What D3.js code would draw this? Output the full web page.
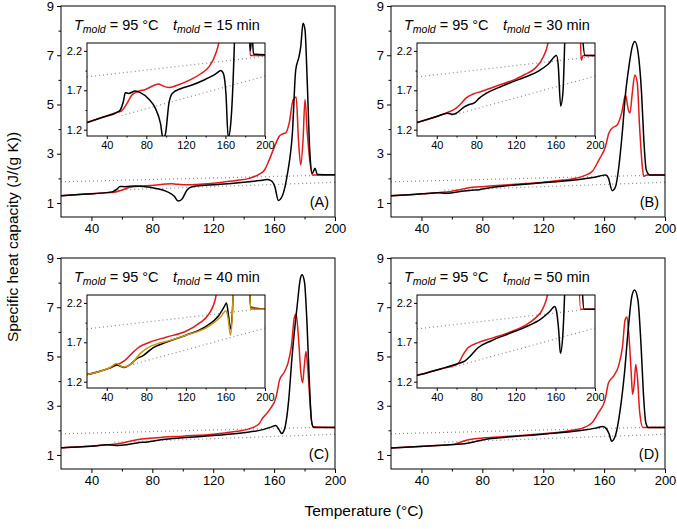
<!DOCTYPE html>
<html>
<head>
<meta charset="utf-8">
<script src="https://cdn.jsdelivr.net/npm/d3@7"></script>
<style>
  body { margin: 0; background: #fff; }
  svg { font-family: "Liberation Sans", Arial, sans-serif; }
  .tick line { stroke: #000; }
  .domain { display: none; }
</style>
</head>
<body>
<svg id="chart" width="677" height="529"></svg>
<script>
// ---- data (temperature in °C, specific heat capacity in J/(g K)) ----
var xTicks = [40, 80, 120, 160, 200];
var xMinor = [60, 100, 140, 180];
var yTicks = [1, 3, 5, 7, 9];
var yMinor = [2, 4, 6, 8];
var insetYTicks = [1.2, 1.7, 2.2];
var insetYMinor = [1.45, 1.95];

var panelIds = ["A", "B", "C", "D"];
var moldTimes = [15, 30, 40, 50];

var blackA = [[20,1.29],[36.6,1.36],[50.2,1.42],[53.6,1.45],[57,1.57],[58.7,1.67],[62,1.66],[68.8,1.69],[73.9,1.67],[82.4,1.59],[89.2,1.47],[94.3,1.28],[97,1.08],[99.4,1.15],[102.8,1.53],[106.2,1.66],[114.7,1.72],[124.8,1.76],[138.4,1.83],[150.5,1.91],[155.3,1.95],[158,1.91],[160.5,1.66],[162.8,1.1],[165.5,1.3],[168.8,2.2],[172,3.83],[174.2,6.4],[176.4,6.95],[177.5,7.35],[179,8.3],[180.3,8.03],[181.8,5.86],[183.4,3.15],[185.1,2.2],[186.9,2.41],[188.4,2.16],[200,2.15]];
var redA = [[20,1.29],[36.6,1.36],[50.2,1.42],[55,1.44],[60.3,1.53],[65.4,1.64],[70.5,1.68],[79,1.71],[92.6,1.78],[96,1.76],[102.8,1.735],[111.2,1.765],[124.8,1.835],[135,1.91],[143.5,2.0],[150.3,2.17],[153.7,2.34],[156.8,2.75],[161.2,3.43],[163.3,3.7],[165.5,3.8],[167.7,3.85],[169.9,4.24],[172.5,5.19],[174.5,5.3],[176,3.56],[177.5,2.54],[179,3.56],[180.3,5.2],[181.8,3.83],[183.4,2.75],[185.1,2.14],[200,2.14]];

var blackB = [[20,1.29],[40.7,1.37],[50.9,1.41],[56,1.395],[61,1.42],[67.8,1.49],[72.9,1.52],[78,1.54],[83,1.6],[89.9,1.66],[101.7,1.73],[115.3,1.8],[128.9,1.865],[142.4,1.94],[152.6,2.03],[161.1,2.14],[162.8,2.02],[165.3,1.5],[167.5,1.66],[169.7,2.48],[171.9,3.83],[174.1,5.46],[176.3,6.54],[178.5,7.35],[180.2,7.56],[182.4,7.08],[184.6,5.46],[186.1,3.56],[187.7,2.34],[190,2.14],[200,2.14]];
var redB = [[20,1.29],[40.7,1.37],[50.9,1.42],[59.3,1.47],[64.4,1.53],[69.5,1.6],[76.3,1.65],[84.8,1.685],[95,1.73],[108.5,1.79],[118.7,1.835],[128.9,1.9],[139,1.975],[147.5,2.12],[152.6,2.31],[156.6,2.75],[160.9,3.29],[163.1,3.83],[165.3,4.04],[168.6,4.17],[171.5,4.65],[174.1,5.39],[175.9,4.78],[177,4.65],[178.5,5.46],[180.2,6.2],[181.8,5.87],[183.3,4.1],[185.1,2.48],[186,2.08],[188,2.14],[200,2.14]];

var blackC = [[20,1.29],[23.3,1.3],[43.3,1.375],[50,1.415],[53.3,1.4],[57.3,1.38],[63.3,1.415],[70,1.49],[76.7,1.53],[86.7,1.63],[100,1.7],[120,1.79],[140,1.9],[153.3,2.04],[158.7,2.15],[161,2.2],[163.3,2.02],[165,1.87],[166.7,2.02],[169.6,3.24],[171.8,5.0],[175.1,7.03],[177.3,8.18],[178.4,8.32],[180,8.0],[181.6,6.35],[183.1,4.05],[184.5,2.42],[186,2.12],[200,2.12]];
var redC = [[20,1.29],[43.3,1.375],[50,1.41],[58.3,1.47],[66.7,1.575],[73.3,1.645],[83.3,1.7],[100,1.765],[120,1.84],[133.3,1.94],[143.3,2.06],[150,2.26],[152.5,2.5],[157,2.83],[161.4,3.37],[163.6,4.05],[166.2,4.32],[169.1,4.73],[171.3,5.4],[173.4,6.62],[174.5,6.73],[176.1,5.67],[177.6,4.32],[178.7,3.94],[179.8,4.59],[180.9,5.2],[182,4.59],[183.5,3.24],[185.2,2.15],[200,2.12]];
var goldC = [[20,1.29],[43.3,1.38],[50,1.43],[56.7,1.385],[65,1.43],[73.3,1.55],[80,1.62],[93.3,1.69],[100,1.71],[120,1.79],[140,1.88],[155,2.02],[160.7,2.1],[163.3,1.95],[165,1.79],[166.7,1.99],[169.6,3.2],[171.8,5.0],[175.1,7.0],[178.4,8.3],[181.6,6.3],[184.5,2.4],[186,2.12],[200,2.12]];

var blackD = [[20,1.28],[44.7,1.365],[61.5,1.43],[68.2,1.46],[75,1.54],[81.7,1.63],[95.2,1.72],[112,1.805],[128.9,1.89],[145.8,2.0],[154.2,2.09],[159.2,2.155],[161,2.1],[163.3,1.85],[165,1.56],[167.5,1.8],[170.6,2.85],[173.4,4.34],[176,6.22],[178.2,7.44],[180,7.7],[182.2,7.3],[184.3,5.41],[185.8,3.52],[187.4,2.31],[189,2.12],[200,2.12]];
var redD = [[20,1.28],[44.7,1.365],[61.5,1.43],[66.5,1.54],[71.6,1.63],[81.7,1.695],[95.2,1.75],[112,1.82],[128.9,1.91],[139,2.0],[147.4,2.13],[152.4,2.33],[156.3,2.72],[160.7,3.26],[162.9,3.93],[166.2,4.2],[169.4,4.6],[172.1,5.41],[173.8,6.49],[175,6.6],[176.5,5.68],[177.8,4.34],[178.7,3.46],[179.8,3.9],[180.8,4.67],[182,4.07],[183.4,2.72],[185.5,2.12],[200,2.12]];

// dotted baselines
var mainUpper = [[20,1.86],[200,2.14]];
var mainLower = [[55,1.52],[200,1.84]];
var insetUpper = [[20,1.87],[200,2.13]];
var insetLower = [[55,1.38],[200,1.88]];

var blackSeries = [blackA, blackB, blackC, blackD];
var redSeries = [redA, redB, redC, redD];
var goldSeries = [null, null, goldC, null];

// ---- layout ----
var svg = d3.select("#chart");
var panelW = 274, panelH = 211;
var lefts = [61, 391], tops = [6, 258];
var inset = { dx: 26, dy: 37, w: 178, h: 93 };
var red = "#e2191b", gold = "#c8960c";

function drawAxes(g, x, y, w, h, xt, xm, yt, ym, big, yFmt) {
    var fs = big ? 13 : 11;
    var ts = big ? 4 : 3;
    var gx = g.append("g").attr("transform", "translate(0," + h + ")")
        .call(d3.axisBottom(x).tickValues(xt).tickSize(ts).tickPadding(big ? 3 : 2));
    gx.selectAll("text").style("font-size", fs + "px").attr("fill", "#000");
    g.append("g").attr("transform", "translate(0," + h + ")")
        .call(d3.axisBottom(x).tickValues(xm).tickSize(ts - 1.5).tickFormat(""));
    var gy = g.append("g")
        .call(d3.axisLeft(y).tickValues(yt).tickSize(ts).tickPadding(big ? 3 : 2).tickFormat(yFmt));
    gy.selectAll("text").style("font-size", fs + "px").attr("fill", "#000");
    g.append("g")
        .call(d3.axisLeft(y).tickValues(ym).tickSize(ts - 1.5).tickFormat(""));
    g.append("rect").attr("width", w).attr("height", h)
        .attr("fill", "none").attr("stroke", "#000").attr("stroke-width", 1);
}

function drawTitle(g, minutes) {
    var t1 = g.append("text").attr("x", 13).attr("y", 24).style("font-size", "14.5px");
    t1.append("tspan").style("font-style", "italic").text("T");
    t1.append("tspan").style("font-style", "italic").style("font-size", "10.5px").attr("dy", 3).text("mold");
    t1.append("tspan").attr("dy", -3).text(" = 95 °C");
    var t2 = g.append("text").attr("x", 112).attr("y", 24).style("font-size", "14.5px");
    t2.append("tspan").style("font-style", "italic").text("t");
    t2.append("tspan").style("font-style", "italic").style("font-size", "10.5px").attr("dy", 3).text("mold");
    t2.append("tspan").attr("dy", -3).text(" = " + minutes + " min");
}

panelIds.forEach(function (id, i) {
    var px = lefts[i % 2], py = tops[Math.floor(i / 2)];
    var g = svg.append("g").attr("transform", "translate(" + px + "," + py + ")");

    var x = d3.scaleLinear().domain([20, 200]).range([0, panelW]);
    var y = d3.scaleLinear().domain([0.43, 9]).range([panelH, 0]);
    var line = d3.line().x(function (d) { return x(d[0]); }).y(function (d) { return y(d[1]); })
        .curve(d3.curveMonotoneX);

    // dotted baselines
    [mainUpper, mainLower].forEach(function (b) {
        g.append("path").datum(b).attr("d", d3.line().x(function (d) { return x(d[0]); }).y(function (d) { return y(d[1]); }))
            .attr("fill", "none").attr("stroke", "#8c8c8c").attr("stroke-width", 1.2)
            .attr("stroke-dasharray", "1,3");
    });

    g.append("path").datum(redSeries[i]).attr("d", line)
        .attr("fill", "none").attr("stroke", red).attr("stroke-width", 1.5);
    g.append("path").datum(blackSeries[i]).attr("d", line)
        .attr("fill", "none").attr("stroke", "#000").attr("stroke-width", 1.5);

    drawAxes(g, x, y, panelW, panelH, xTicks, xMinor, yTicks, yMinor, true, d3.format("d"));
    drawTitle(g, moldTimes[i]);

    g.append("text").attr("x", 268).attr("y", 201).attr("text-anchor", "end")
        .style("font-size", "14.5px").text("(" + id + ")");

    // inset
    var ig = g.append("g").attr("transform", "translate(" + inset.dx + "," + inset.dy + ")");
    ig.append("rect").attr("width", inset.w).attr("height", inset.h).attr("fill", "#fff");
    var ix = d3.scaleLinear().domain([20, 200]).range([0, inset.w]);
    var iy = d3.scaleLinear().domain([1.12, 2.3]).range([inset.h, 0]);
    var iline = d3.line().x(function (d) { return ix(d[0]); }).y(function (d) { return iy(d[1]); })
        .curve(d3.curveMonotoneX);
    var clipId = "clip" + id;
    ig.append("clipPath").attr("id", clipId).append("rect")
        .attr("width", inset.w).attr("height", inset.h);
    var cg = ig.append("g").attr("clip-path", "url(#" + clipId + ")");
    [insetUpper, insetLower].forEach(function (b) {
        cg.append("path").datum(b).attr("d", d3.line().x(function (d) { return ix(d[0]); }).y(function (d) { return iy(d[1]); }))
            .attr("fill", "none").attr("stroke", "#8c8c8c").attr("stroke-width", 1.2)
            .attr("stroke-dasharray", "1,3");
    });
    cg.append("path").datum(redSeries[i]).attr("d", iline)
        .attr("fill", "none").attr("stroke", red).attr("stroke-width", 1.5);
    cg.append("path").datum(blackSeries[i]).attr("d", iline)
        .attr("fill", "none").attr("stroke", "#000").attr("stroke-width", 1.5);
    if (goldSeries[i]) {
        cg.append("path").datum(goldSeries[i]).attr("d", iline)
            .attr("fill", "none").attr("stroke", gold).attr("stroke-width", 1.5);
    }
    drawAxes(ig, ix, iy, inset.w, inset.h, xTicks, xMinor, insetYTicks, insetYMinor, false, d3.format(".1f"));
});

// axis titles
svg.append("text").attr("transform", "translate(18,237) rotate(-90)")
    .attr("text-anchor", "middle").style("font-size", "15.5px")
    .text("Specific heat capacity (J/(g K))");
svg.append("text").attr("x", 364).attr("y", 516)
    .attr("text-anchor", "middle").style("font-size", "15.5px")
    .text("Temperature (°C)");
</script>
</body>
</html>
